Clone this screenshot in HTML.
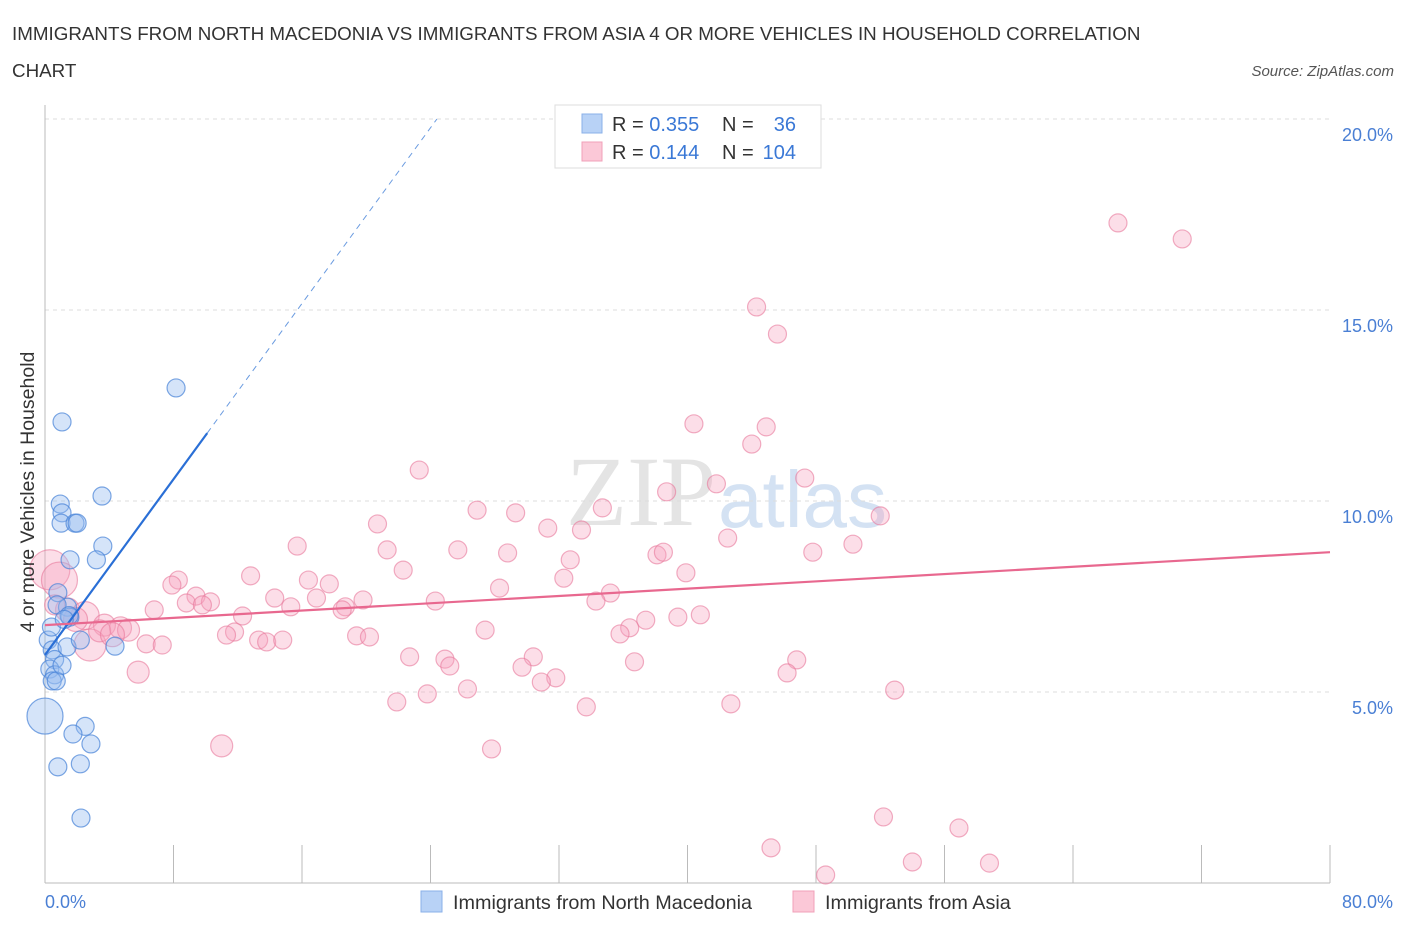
<!DOCTYPE html>
<html><head><meta charset="utf-8"><style>
body{margin:0;background:#fff;font-family:"Liberation Sans",sans-serif}
</style></head><body>
<svg width="1406" height="930" xmlns="http://www.w3.org/2000/svg">
<text x="12" y="40" font-size="18.8" fill="#333">IMMIGRANTS FROM NORTH MACEDONIA VS IMMIGRANTS FROM ASIA 4 OR MORE VEHICLES IN HOUSEHOLD CORRELATION</text>
<text x="12" y="77" font-size="18.8" fill="#333">CHART</text>
<text x="1394" y="76" font-size="15" fill="#555" font-style="italic" text-anchor="end">Source: ZipAtlas.com</text>
<text x="716" y="525" font-size="100" fill="#e4e4e4" font-family="Liberation Serif,serif" text-anchor="end">ZIP</text>
<text x="718" y="527" font-size="80" fill="#d4e2f3">atlas</text>
<g id="grid"></g>
<line x1="45" y1="105" x2="45" y2="883" stroke="#bbb"/>
<line x1="45" y1="883" x2="1330" y2="883" stroke="#bbb"/>
<g id="ticks"></g>
<g id="pink"></g>
<g id="blue"></g>
<g id="trends"></g>
<text x="45" y="908" font-size="18" fill="#4a7fd4">0.0%</text>
<text x="1393" y="908" font-size="18" fill="#4a7fd4" text-anchor="end">80.0%</text>
<text transform="translate(34,492) rotate(-90)" font-size="19.5" fill="#333" text-anchor="middle">4 or more Vehicles in Household</text>
<g>
<rect x="555" y="105" width="266" height="63" fill="#fff" stroke="#ddd"/>
<rect x="582" y="114" width="20" height="19" fill="#b8d2f6" stroke="#8ab0e8"/>
<rect x="582" y="142" width="20" height="19" fill="#fbc8d7" stroke="#f0a0b8"/>
<text x="612" y="131" font-size="20" fill="#333">R = <tspan fill="#3a78d6">0.355</tspan></text>
<text x="722" y="131" font-size="20" fill="#333">N = </text><text x="796" y="131" font-size="20" fill="#3a78d6" text-anchor="end">36</text>
<text x="612" y="159" font-size="20" fill="#333">R = <tspan fill="#3a78d6"> 0.144</tspan></text>
<text x="722" y="159" font-size="20" fill="#333">N = </text><text x="796" y="159" font-size="20" fill="#3a78d6" text-anchor="end">104</text>
</g>
<g>
<rect x="421" y="891" width="21" height="21" fill="#b8d2f6" stroke="#8ab0e8"/>
<text x="453" y="909" font-size="19.8" fill="#333">Immigrants from North Macedonia</text>
<rect x="793" y="891" width="21" height="21" fill="#fbc8d7" stroke="#f0a0b8"/>
<text x="825" y="909" font-size="19.8" fill="#333">Immigrants from Asia</text>
</g>
</svg>
<script>
const yTicks=[5,10,15,20];
const yTickLabels=["5.0%","10.0%","15.0%","20.0%"];
const xTicks=[0,8,16,24,32,40,48,56,64,72,80];
const blueX=[8.16,1.06,0.95,1.06,1.0,1.87,2.0,3.55,3.6,3.2,1.56,0.8,1.4,0.75,1.55,0.2,0.45,0.6,0.3,0.6,0.45,1.37,2.2,4.36,0.7,1.06,0,2.5,1.74,2.86,0.8,2.2,2.24,1.5,0.4,1.2];
const blueY=[12.96,12.07,9.92,9.69,9.42,9.42,9.42,10.13,8.82,8.46,8.46,7.6,7.22,7.28,6.96,6.36,6.1,5.85,5.6,5.45,5.29,6.18,6.36,6.2,5.29,5.7,4.37,4.1,3.9,3.64,3.04,3.12,1.7,7.0,6.7,6.9];
const blueR=[9,9,9,9,9,9,9,9,9,9,9,9,9,9,9,9,9,9,9,9,9,9,9,9,9,9,18,9,9,9,9,9,9,9,9,9];
const pinkX=[66.8,70.8,44.3,45.6,40.4,44.9,44.0,23.3,41.8,47.3,38.7,26.9,29.3,34.7,52.0,20.7,31.3,33.4,42.5,15.7,21.3,25.7,28.8,38.1,38.5,47.8,50.3,32.7,22.3,39.9,12.8,32.3,8.3,7.9,16.4,17.7,28.3,35.2,9.4,14.3,19.8,34.3,24.3,8.8,10.3,9.8,16.9,15.3,18.7,6.8,12.3,18.5,40.8,39.4,37.4,36.4,35.8,27.4,19.4,20.2,11.8,11.3,13.3,13.8,14.8,6.3,7.3,22.7,24.9,25.2,30.4,29.7,36.7,46.8,46.2,31.8,30.9,26.3,23.8,21.9,33.7,42.7,52.9,5.8,11.0,27.8,52.2,56.9,45.2,54.0,58.8,48.6,0.3,0.9,1.4,2.5,3.7,2.8,4.7,5.2,3.4,0.6,1.9,4.2];
const pinkY=[17.28,16.86,15.08,14.37,12.02,11.94,11.49,10.81,10.45,10.6,10.24,9.76,9.69,9.82,9.61,9.4,9.29,9.24,9.03,8.82,8.72,8.72,8.64,8.59,8.66,8.66,8.87,8.46,8.19,8.12,8.04,7.98,7.93,7.8,7.93,7.83,7.72,7.59,7.51,7.46,7.41,7.38,7.38,7.33,7.36,7.28,7.46,7.23,7.23,7.15,6.99,7.15,7.02,6.96,6.88,6.68,6.52,6.62,6.47,6.44,6.57,6.49,6.36,6.31,6.36,6.26,6.23,5.92,5.86,5.68,5.92,5.65,5.79,5.84,5.5,5.37,5.26,5.08,4.95,4.74,4.61,4.69,5.05,5.52,3.59,3.51,1.73,1.44,0.92,0.55,0.52,0.21,8.2,7.93,7.15,7.0,6.75,6.23,6.68,6.62,6.6,7.28,6.9,6.5];
const pinkR=[9,9,9,9,9,9,9,9,9,9,9,9,9,9,9,9,9,9,9,9,9,9,9,9,9,9,9,9,9,9,9,9,9,9,9,9,9,9,9,9,9,9,9,9,9,9,9,9,9,9,9,9,9,9,9,9,9,9,9,9,9,9,9,9,9,9,9,9,9,9,9,9,9,9,9,9,9,9,9,9,9,9,9,11,11,9,9,9,9,9,9,9,20,18,12,14,11,16,11,11,11,10,12,12];
const blueTrend=[0,5.97,10.1,24.4];
const pinkTrend=[0,6.75,80,8.66];
const sx=v=>45+v*1285/80, sy=v=>883-v*38.2;
const NS='http://www.w3.org/2000/svg';
function mk(t,a,p){const e=document.createElementNS(NS,t);for(const k in a)e.setAttribute(k,a[k]);p.appendChild(e);return e;}
const grid=document.getElementById('grid');
yTicks.forEach((v,i)=>{
 const l=mk('line',{x1:45,x2:1330,y1:sy(v),y2:sy(v),stroke:'#ddd','stroke-dasharray':'4,4'},grid);
 
 
 const t=mk('text',{x:1393,y:sy(v)+22,'font-size':18,fill:'#4a7fd4','text-anchor':'end'},grid);
 t.textContent=yTickLabels[i];
 
 
});
const ticks=document.getElementById('ticks');
xTicks.forEach(v=>{
 const l=mk('line',{x1:sx(v),x2:sx(v),y1:845,y2:883,stroke:'#bbb'},ticks);
 
 
});
const pg=document.getElementById('pink');
pinkX.forEach((x,i)=>{
 const c=mk('circle',{cx:sx(x),cy:sy(pinkY[i]),r:pinkR[i],fill:'rgba(246,160,188,0.35)',stroke:'rgba(232,120,155,0.6)','stroke-width':1.2},pg);
 
 
});
const bg=document.getElementById('blue');
blueX.forEach((x,i)=>{
 const c=mk('circle',{cx:sx(x),cy:sy(blueY[i]),r:blueR[i],fill:'rgba(150,188,240,0.4)',stroke:'rgba(70,130,215,0.7)','stroke-width':1.2},bg);
 
 
});
const tg=document.getElementById('trends');
const bs=(20-blueTrend[1])/(blueTrend[3]-blueTrend[0]);
const b1=mk('line',{x1:sx(blueTrend[0]),y1:sy(blueTrend[1]),x2:sx(blueTrend[2]),y2:sy(blueTrend[1]+bs*blueTrend[2]),stroke:'#2a6fd6','stroke-width':2.2},tg);


const b2=mk('line',{x1:sx(blueTrend[2]),y1:sy(blueTrend[1]+bs*blueTrend[2]),x2:sx(blueTrend[3]),y2:sy(20),stroke:'#6a9be0','stroke-width':1,'stroke-dasharray':'6,5'},tg);


const p1=mk('line',{x1:sx(pinkTrend[0]),y1:sy(pinkTrend[1]),x2:sx(pinkTrend[2]),y2:sy(pinkTrend[3]),stroke:'#e8688f','stroke-width':2.2},tg);


</script>
</body></html>
